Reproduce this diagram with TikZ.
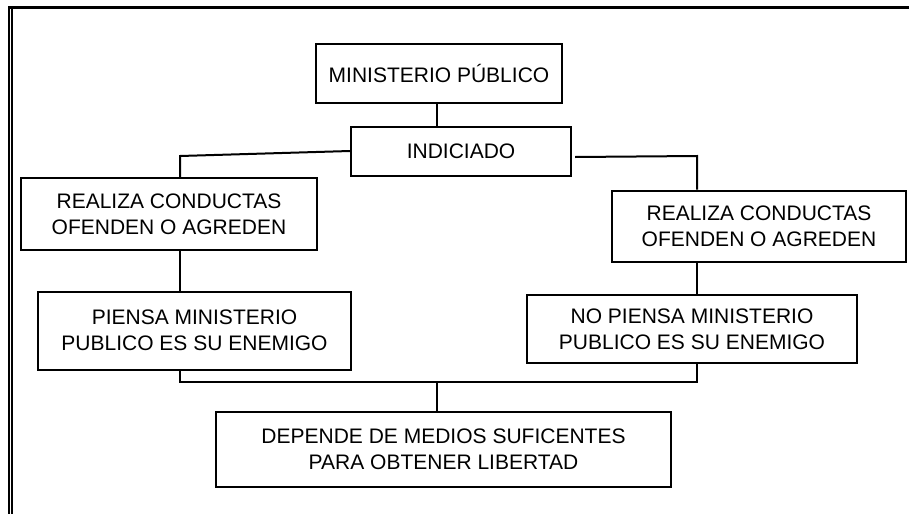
\documentclass[tikz,border=0pt]{standalone}
\usepackage{fontspec}
\setmainfont{Liberation Sans}
\usetikzlibrary{calc}

\begin{document}
\begin{tikzpicture}[
  x=0.5pt, y=-0.5pt, font=\fontsize{10.5}{12.8}\selectfont,
  caja/.style={draw=black, line width=1pt, align=center, inner sep=0pt},
  con/.style={draw=black, line width=1pt},
  marco/.style={draw=black, line width=1pt},
]
\useasboundingbox (0,0) rectangle (909,514);

% ============================================================ marco
\draw[marco, line width=1.5pt] (8,7.5) -- (909,7.5);
\draw[marco] (9,6) -- (9,514);
\draw[marco] (12,9) -- (12,514);

% ============================================================ cajas
% ---- arriba
\node[caja, minimum width=123pt, minimum height=29.5pt] at (439,73) (mp)
  {MINISTERIO PÚBLICO};
\node[caja, minimum width=110pt, minimum height=24.5pt] at (461,151) (ind)
  {INDICIADO};

% ---- rama izquierda
\node[caja, minimum width=148pt, minimum height=36pt] at (169,214) (lreal)
  {REALIZA CONDUCTAS\\OFENDEN O AGREDEN};
\node[caja, minimum width=156.5pt, minimum height=39pt] at (194.5,330.5) (lpiensa)
  {PIENSA MINISTERIO\\PUBLICO ES SU ENEMIGO};

% ---- rama derecha
\node[caja, minimum width=147pt, minimum height=35.5pt] at (759,226) (rreal)
  {REALIZA CONDUCTAS\\OFENDEN O AGREDEN};
\node[caja, minimum width=165pt, minimum height=34pt] at (692,329) (rpiensa)
  {NO PIENSA MINISTERIO\\PUBLICO ES SU ENEMIGO};

% ---- abajo
\node[caja, minimum width=227.5pt, minimum height=37.5pt] at (443.5,449.5) (dep)
  {DEPENDE DE MEDIOS SUFICENTES\\PARA OBTENER LIBERTAD};

% ============================================================ conectores
\coordinate (lk) at (180,156);
\coordinate (rk) at (697,156);
\coordinate (bk) at (437,381.5);

\draw[con] (mp.south -| bk) -- (ind.north -| bk);
\draw[con] (ind.west) -- (lk) -- (lk |- lreal.north);
\draw[con] ($(ind.east)+(3,6)$) -- (rk) -- (rk |- rreal.north);
\draw[con] (lk |- lreal.south) -- (lk |- lpiensa.north);
\draw[con] (rk |- rreal.south) -- (rk |- rpiensa.north);
\draw[con] (lk |- lpiensa.south) -- (lk |- bk) -- (rk |- bk) -- (rk |- rpiensa.south);
\draw[con] (bk) -- (dep.north -| bk);

\end{tikzpicture}
\end{document}
